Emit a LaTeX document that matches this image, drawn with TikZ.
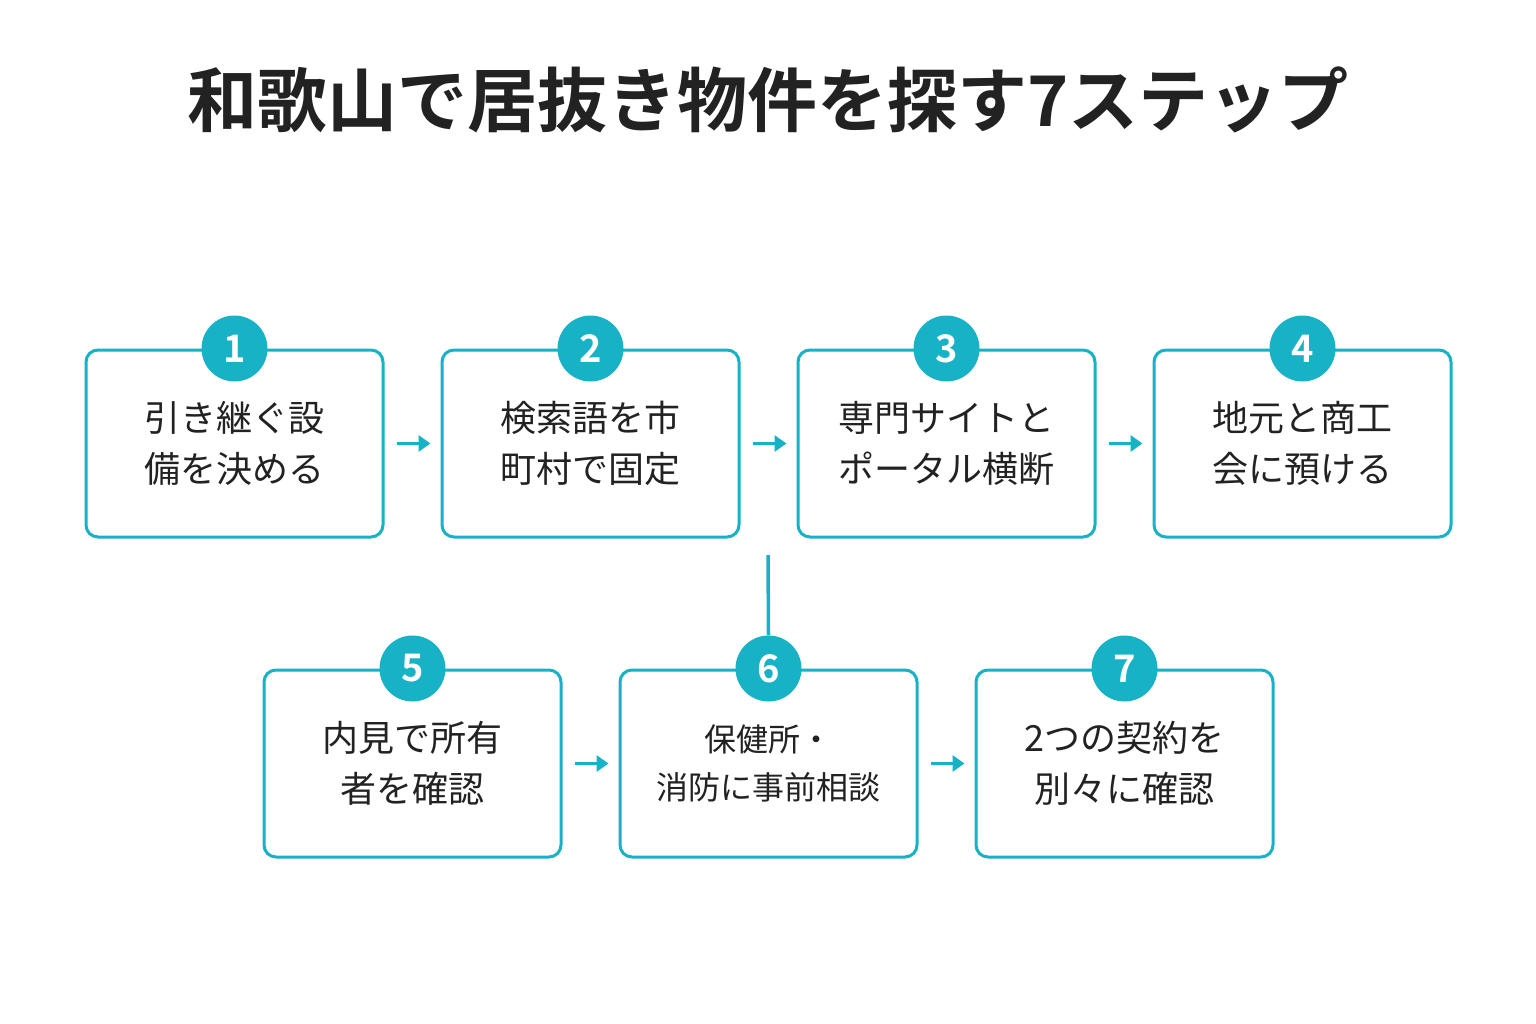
\documentclass[tikz,border=0pt]{standalone}
\usepackage{fontspec}
\newfontfamily\cjk{Noto Sans CJK JP}
\newfontfamily\cjkb{Noto Sans CJK JP Bold}
\usetikzlibrary{arrows.meta}
\definecolor{teal}{HTML}{17B2C5}
\definecolor{ink}{HTML}{222222}
\begin{document}
\begin{tikzpicture}[x=1pt,y=-1pt,
 box/.style={draw=teal,line width=3pt,rounded corners=12pt,minimum width=297pt,minimum height=187pt,fill=white,
   text=ink,font=\cjk\fontsize{36}{51}\selectfont,align=center},
 num/.style={circle,fill=teal,minimum size=66pt,inner sep=0pt,text=white,font=\cjkb\fontsize{38}{38}\selectfont},
 arr/.style={draw=teal,line width=3.5pt,-{Triangle[length=12pt,width=16pt]}}]
\useasboundingbox (0,0) rectangle (1536,1024);
\node[text=ink,font=\cjkb\fontsize{70}{70}\selectfont] (title) at (768,100) {和歌山で居抜き物件を探す7ステップ};
\node[box] (b1) at (234.5,443.5) {引き継ぐ設\\備を決める};
\node[box] (b2) at (590.5,443.5) {検索語を市\\町村で固定};
\node[box] (b3) at (946.5,443.5) {専門サイトと\\ポータル横断};
\node[box] (b4) at (1302.5,443.5) {地元と商工\\会に預ける};
\node[box] (b5) at (412.5,763.5) {内見で所有\\者を確認};
\node[box,font=\cjk\fontsize{32}{48}\selectfont] (b6) at (768.5,763.5) {保健所・\\消防に事前相談};
\node[box] (b7) at (1124.5,763.5) {2つの契約を\\別々に確認};
\foreach \i in {1,...,7}{\node[num] (n\i) at (b\i.north) {\i};}
\coordinate (v1) at (768,555);
\draw[teal,line width=3.5pt] (v1) -- (n6.north);
\foreach \a/\b in {b1/b2,b2/b3,b3/b4,b5/b6,b6/b7}{
 \draw[arr] ([xshift=12pt]\a.east) -- ([xshift=-10pt]\b.west);}
\end{tikzpicture}
\end{document}
